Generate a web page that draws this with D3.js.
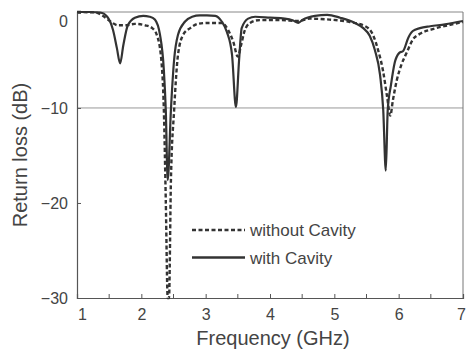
<!DOCTYPE html>
<html>
<head>
<meta charset="utf-8">
<script src="https://cdn.jsdelivr.net/npm/d3@7"></script>
<style>
  body { margin: 0; background: #fff; }
  svg { display: block; font-family: "Liberation Sans", Arial, sans-serif; }
</style>
</head>
<body>
<svg id="chart" width="466" height="352"></svg>
<script>
// frequency (GHz) / return loss (dB)
var withFreq = [1.0, 1.2, 1.36, 1.47, 1.56, 1.62, 1.67, 1.72, 1.79, 1.9, 2.03, 2.13, 2.21, 2.29, 2.35, 2.38, 2.41, 2.46, 2.51, 2.57, 2.68, 2.79, 2.91, 3.02, 3.15, 3.25, 3.33, 3.41, 3.47, 3.52, 3.56, 3.66, 3.77, 4.0, 4.23, 4.36, 4.44, 4.51, 4.7, 4.89, 5.09, 5.32, 5.45, 5.55, 5.63, 5.71, 5.76, 5.8, 5.83, 5.88, 5.94, 6.01, 6.07, 6.15, 6.22, 6.33, 6.49, 6.72, 7.0];
var withLoss = [0.1, 0.1, 0.05, -0.4, -1.8, -3.7, -5.3, -3.4, -1.3, -0.5, -0.3, -0.4, -0.7, -2.3, -6.0, -10.2, -17.6, -10.2, -4.9, -2.3, -0.9, -0.4, -0.25, -0.25, -0.3, -0.9, -2.0, -4.4, -9.9, -4.9, -1.6, -0.6, -0.4, -0.5, -0.6, -0.8, -1.05, -0.7, -0.3, -0.2, -0.5, -1.05, -1.6, -2.4, -3.9, -6.5, -10.2, -16.6, -10.2, -7.6, -5.2, -4.2, -4.0, -2.6, -1.9, -1.6, -1.4, -1.2, -0.85];

var withoutFreq = [1.0, 1.28, 1.4, 1.51, 1.64, 1.75, 1.9, 2.06, 2.17, 2.24, 2.31, 2.35, 2.38, 2.41, 2.43, 2.46, 2.51, 2.57, 2.65, 2.76, 2.88, 3.02, 3.25, 3.35, 3.43, 3.5, 3.55, 3.6, 3.69, 3.84, 4.16, 4.44, 4.62, 4.93, 5.24, 5.48, 5.6, 5.68, 5.76, 5.82, 5.87, 5.91, 5.97, 6.04, 6.13, 6.22, 6.33, 6.53, 6.8, 7.0];
var withoutLoss = [0.1, 0.05, -0.3, -0.85, -1.3, -1.3, -1.15, -1.3, -1.6, -2.3, -4.9, -10.2, -19.7, -30, -30, -17.6, -10.2, -4.4, -2.3, -1.6, -1.15, -1.05, -1.05, -1.8, -3.05, -4.6, -3.4, -2.0, -1.05, -0.75, -0.75, -0.85, -0.6, -0.7, -0.95, -1.4, -2.3, -3.9, -6.2, -8.8, -10.8, -9.2, -7.1, -5.5, -4.1, -2.8, -2.2, -1.7, -1.25, -0.95];

var xTicks = [1, 2, 3, 4, 5, 6, 7];
var xMinorTicks = [1.5, 2.5, 3.5, 4.5, 5.5, 6.5];
var yTicks = [0, -10, -20, -30];
var legendLabels = ["without Cavity", "with Cavity"];

var svg = d3.select("#chart");
var margin = {left: 77, top: 12, right: 3, bottom: 54};
var W = 466, H = 352;

var x = d3.scaleLinear().domain([1, 7]).range([margin.left, W - margin.right]);
var y = d3.scaleLinear().domain([-30, 0.1]).range([H - margin.bottom, margin.top]);

var axisColor = "#555";
var textColor = "#444";
var lineColor = "#333";
var font = "Liberation Sans, Arial, sans-serif";

// -10 dB reference line
svg.append("line")
    .attr("x1", x(1)).attr("x2", x(7))
    .attr("y1", y(-10)).attr("y2", y(-10))
    .attr("stroke", "#999").attr("stroke-width", 1);

// frame top / right
svg.append("line")
    .attr("x1", x(1)).attr("x2", x(7))
    .attr("y1", margin.top).attr("y2", margin.top)
    .attr("stroke", "#888").attr("stroke-width", 1);
svg.append("line")
    .attr("x1", x(7)).attr("x2", x(7))
    .attr("y1", margin.top).attr("y2", y(-30))
    .attr("stroke", "#777").attr("stroke-width", 1);

// x axis
var xAxis = svg.append("g")
    .attr("transform", "translate(0," + y(-30) + ")")
    .call(d3.axisTop(x).tickValues(xTicks).tickSize(4).tickFormat(d3.format("d")));
xAxis.append("g").selectAll("line").data(xMinorTicks).enter().append("line")
    .attr("x1", function (d) { return x(d); }).attr("x2", function (d) { return x(d); })
    .attr("y1", 0).attr("y2", -4)
    .attr("stroke", axisColor);
xAxis.selectAll(".tick text")
    .attr("y", 11).attr("dy", "0.71em")
    .attr("font-size", 16).attr("fill", textColor)
    .attr("font-family", font)
    .attr("dx", function (d) { return d === 1 ? 5 : (d === 7 ? -2 : 0); });

// y axis
var yAxis = svg.append("g")
    .attr("transform", "translate(" + x(1) + ",0)")
    .call(d3.axisRight(y).tickValues(yTicks).tickSize(4).tickFormat(d3.format("d")));
yAxis.selectAll(".tick text")
    .attr("x", -9).attr("text-anchor", "end")
    .attr("font-size", 16).attr("fill", textColor)
    .attr("font-family", font);
// the 0 label sits a bit lower in the original
yAxis.selectAll(".tick text").filter(function (d) { return d === 0; }).attr("dy", "0.85em");

svg.selectAll(".domain").attr("stroke", axisColor).attr("stroke-width", 1.2);
svg.selectAll(".tick line").attr("stroke", axisColor);

// curves
var line = d3.line()
    .x(function (d) { return x(d[0]); })
    .y(function (d) { return y(d[1]); })
    .curve(d3.curveMonotoneX);

var withoutData = withoutFreq.map(function (f, i) { return [f, withoutLoss[i]]; });
var withData = withFreq.map(function (f, i) { return [f, withLoss[i]]; });

svg.append("path")
    .datum(withoutData)
    .attr("d", line)
    .attr("fill", "none").attr("stroke", lineColor)
    .attr("stroke-width", 2.4).attr("stroke-dasharray", "4,2.5");

svg.append("path")
    .datum(withData)
    .attr("d", line)
    .attr("fill", "none").attr("stroke", lineColor)
    .attr("stroke-width", 2.2);

// legend
var legend = svg.append("g").attr("transform", "translate(192,230)");
legendLabels.forEach(function (lab, i) {
    var ly = i * 27.5;
    legend.append("line")
        .attr("x1", 0).attr("x2", 53)
        .attr("y1", ly).attr("y2", ly)
        .attr("stroke", lineColor).attr("stroke-width", 2.4)
        .attr("stroke-dasharray", i === 0 ? "4,2.5" : null);
    legend.append("text")
        .attr("x", 58).attr("y", ly + 6)
        .attr("font-size", 17).attr("fill", textColor)
        .text(lab);
});

// axis titles
svg.append("text")
    .attr("x", 273).attr("y", 345)
    .attr("text-anchor", "middle")
    .attr("font-size", 20).attr("fill", textColor)
    .text("Frequency (GHz)");

svg.append("text")
    .attr("transform", "translate(27,155) rotate(-90)")
    .attr("text-anchor", "middle")
    .attr("font-size", 20).attr("fill", textColor)
    .text("Return loss (dB)");
</script>
</body>
</html>
